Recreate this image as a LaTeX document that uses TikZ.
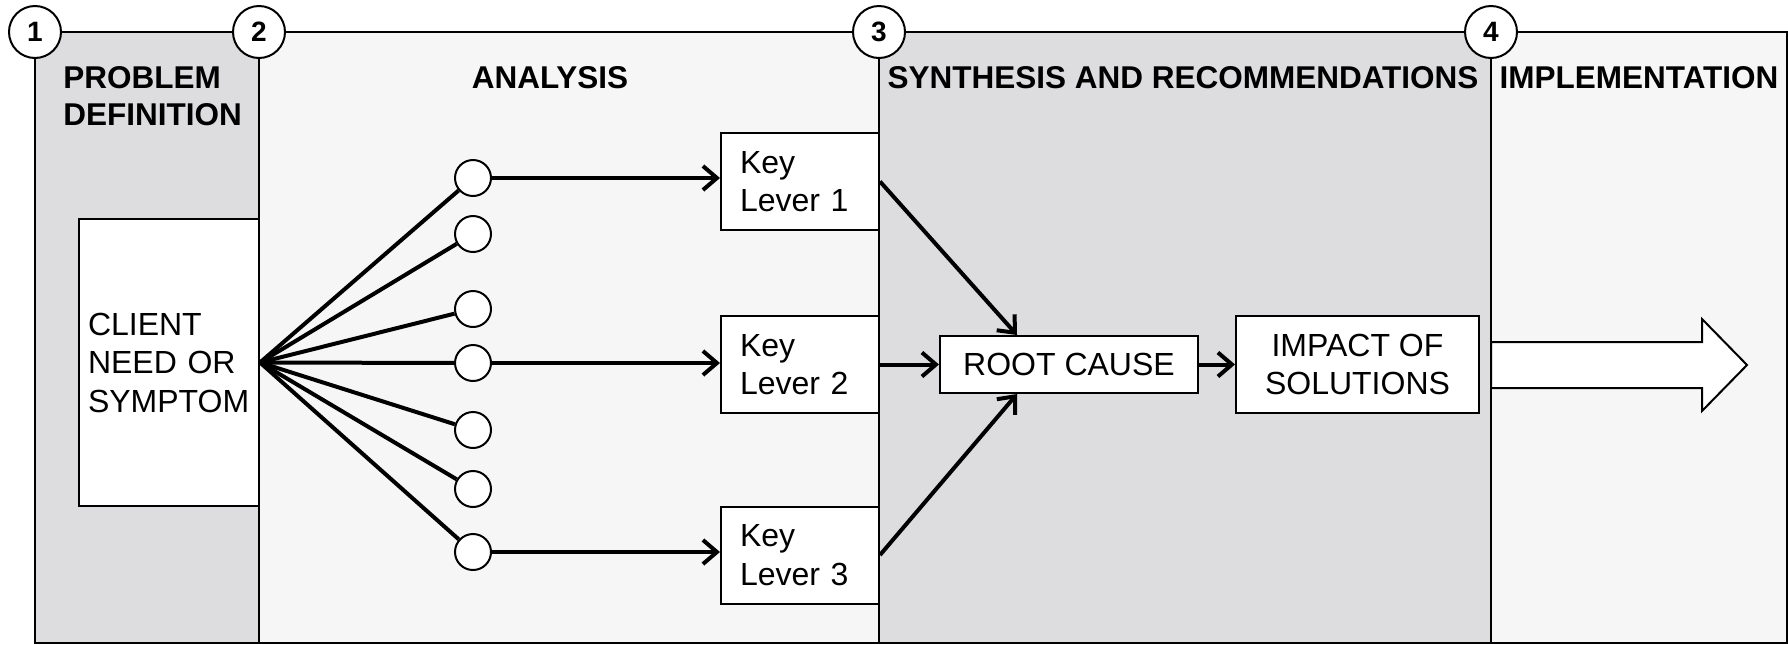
\documentclass[tikz,border=0pt]{standalone}
\usepackage{fontspec}
\setmainfont{Liberation Sans}
\usetikzlibrary{arrows.meta,calc}
\definecolor{panelA}{RGB}{221,221,224}
\definecolor{panelB}{RGB}{246,246,246}
\tikzset{
  darkpanel/.style={draw=black, fill=panelA, line width=1pt},
  lightpanel/.style={draw=black, fill=panelB, line width=1pt},
  box/.style={draw=black, fill=white, line width=1pt},
  dot/.style={circle, draw=black, fill=white, line width=1pt, minimum size=18pt, inner sep=0pt},
  num/.style={circle, draw=black, fill=white, line width=1pt, minimum size=26pt, inner sep=0pt, font=\fontsize{14}{14}\selectfont\bfseries},
  link/.style={line width=2pt},
  arr/.style={line width=2pt, -{Straight Barb[length=7pt,width=12pt]}},
  head/.style={font=\fontsize{15.75}{18.5}\selectfont\bfseries, inner sep=0pt}
}
\begin{document}
\begin{tikzpicture}[x=0.5pt, y=-0.5pt, font=\fontsize{16}{19.25}\selectfont]
\useasboundingbox (0,0) rectangle (1788,644);
% panels
\draw[darkpanel]  (35,32) rectangle (259,643);
\draw[lightpanel] (259,32) rectangle (879,643);
\draw[darkpanel]  (879,32) rectangle (1491,643);
\draw[lightpanel] (1491,32) rectangle (1787,643);
% number markers
\node[num] (n1) at (35,32) {1};
\node[num] (n2) at (259,32) {2};
\node[num] (n3) at (879,32) {3};
\node[num] (n4) at (1491,32) {4};
% headings
\node[head, anchor=north west, align=left] (h1) at (63,66) {PROBLEM\\DEFINITION};
\node[head, anchor=north] (h2) at (550,66) {ANALYSIS};
\node[head, anchor=north] (h3) at (1183,66) {SYNTHESIS AND RECOMMENDATIONS};
\node[head, anchor=north] (h4) at (1639,66) {IMPLEMENTATION};
% client box
\node[box, text width=81pt, inner xsep=4.5pt, minimum height=143.5pt, align=left] (client) at (169,362.5) {CLIENT\\NEED OR\\SYMPTOM};
% circles
\node[dot] (c1) at (473,178) {};
\node[dot] (c2) at (473,234) {};
\node[dot] (c3) at (473,309) {};
\node[dot] (c4) at (473,363) {};
\node[dot] (c5) at (473,430) {};
\node[dot] (c6) at (473,489) {};
\node[dot] (c7) at (473,552) {};
\foreach \c in {c1,c2,c3,c4,c5,c6,c7}{
  \draw[link] (client.east) -- (\c);
}
% key levers
\node[box, text width=60pt, inner xsep=9.5pt, minimum height=48.5pt, align=left] (kl1) at (800,181.5) {Key\\Lever 1};
\node[box, text width=60pt, inner xsep=9.5pt, minimum height=48.5pt, align=left] (kl2) at (800,364.5) {Key\\Lever 2};
\node[box, text width=60pt, inner xsep=9.5pt, minimum height=48.5pt, align=left] (kl3) at (800,555) {Key\\Lever 3};
\draw[arr] (c1.east) -- (c1.east -| kl1.west);
\draw[arr] (c4.east) -- (c4.east -| kl2.west);
\draw[arr] (c7.east) -- (c7.east -| kl3.west);
% root cause and impact
\node[box, minimum width=129pt, minimum height=28.5pt] (rc) at (1069,364.5) {ROOT CAUSE};
\node[box, minimum width=121.5pt, minimum height=48.5pt, align=center] (imp) at (1357.5,364.5) {IMPACT OF\\SOLUTIONS};
\draw[arr] (kl1.east) -- ($(rc.north west)+(78,0)$);
\draw[arr] (kl2.east) -- (rc.west);
\draw[arr] (kl3.east) -- ($(rc.south west)+(78,0)$);
\draw[arr] (rc.east) -- (imp.west);
% big arrow
\draw[fill=white, line width=1pt] (1491,342) -- (1702,342) -- (1702,319) -- (1747,365) -- (1702,411) -- (1702,388) -- (1491,388) -- cycle;
\end{tikzpicture}
\end{document}
